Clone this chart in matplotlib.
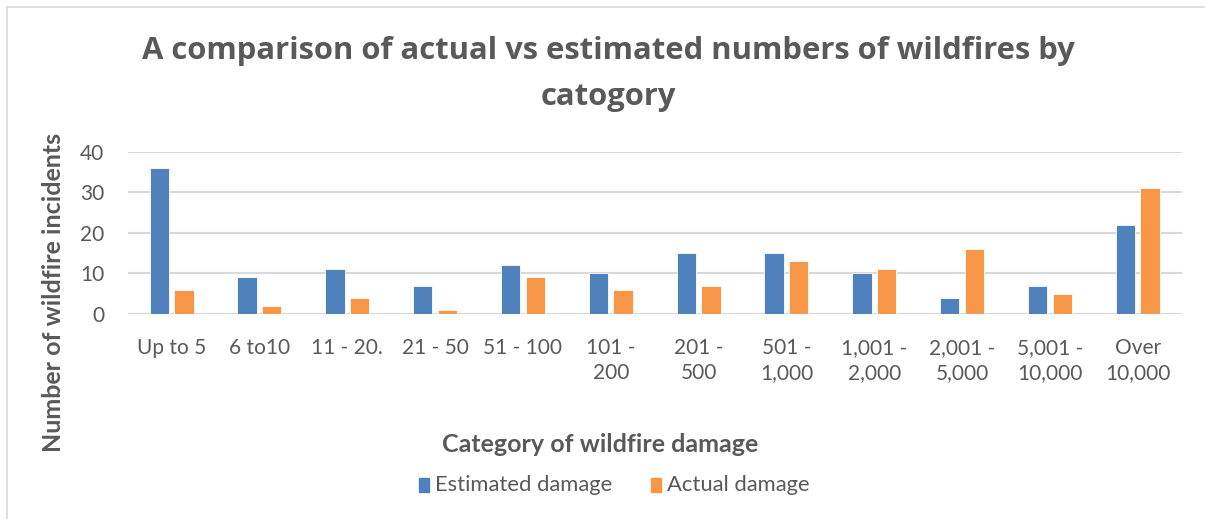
import numpy as np
import matplotlib
matplotlib.use("Agg")
from matplotlib import pyplot as plt
from matplotlib.lines import Line2D
from matplotlib.patches import Rectangle

# 数据
categories = [
    "Up to 5", "6 to10", "11 - 20.", "21 - 50", "51 - 100", "101 -\n200",
    "201 -\n500", "501 -\n1,000", "1,001 -\n2,000", "2,001 -\n5,000",
    "5,001 -\n10,000", "Over\n10,000",
]
estimated = [36, 9, 11, 7, 12, 10, 15, 15, 10, 4, 7, 22]
actual = [6, 2, 4, 1, 9, 6, 7, 13, 11, 16, 5, 31]
y_ticks = [0, 10, 20, 30, 40]

BLUE = "#4F81BD"
ORANGE = "#F79646"
TEXT = "#595959"
GRID = "#D9D9D9"

plt.rcParams["font.family"] = ["Lato", "DejaVu Sans"]

W, H = 1205, 519
fig = plt.figure(figsize=(W / 100, H / 100), dpi=100)
fig.patch.set_facecolor("white")

# 左上边框
fig.add_artist(Line2D([7 / W, 7 / W], [0, 1 - 7 / H], color=GRID, lw=1.2))
fig.add_artist(Line2D([7 / W, 1], [1 - 7 / H, 1 - 7 / H], color=GRID, lw=1.2))

ax = fig.add_axes([127.7 / W, 1 - 314 / H, 1054 / W, 162.3 / H])
x = np.arange(len(categories))
bw = 0.22
ax.bar(x - 0.14, estimated, bw, color=BLUE, edgecolor="white", linewidth=0.6, zorder=3)
ax.bar(x + 0.14, actual, bw, color=ORANGE, edgecolor="white", linewidth=0.6, zorder=3)

ax.set_xlim(-0.5, len(categories) - 0.5)
ax.set_ylim(0, 40)
ax.set_yticks(y_ticks)
ax.set_xticks(x)
ax.set_xticklabels(categories, fontsize=15, color=TEXT, linespacing=1.35)
ax.tick_params(axis="y", labelsize=15, labelcolor=TEXT, length=0, pad=17)
ax.tick_params(axis="x", length=0, pad=17)
ax.grid(axis="y", color=GRID, linewidth=1.5, zorder=0)
for s in ax.spines.values():
    s.set_visible(False)
ax.axhline(0, color=GRID, linewidth=1.5, zorder=2)

fig.text(608 / W, 1 - 51 / H,
         "A comparison of actual vs estimated numbers of wildfires by",
         ha="center", va="center", fontsize=22.3, fontweight="bold", color=TEXT,
         family=["Open Sans", "DejaVu Sans"])
fig.text(608 / W, 1 - 97 / H, "catogory",
         ha="center", va="center", fontsize=22.3, fontweight="bold", color=TEXT,
         family=["Open Sans", "DejaVu Sans"])

fig.text(54 / W, 1 - 292 / H, "Number of wildfire incidents", rotation=90,
         ha="center", va="center", fontsize=18, fontweight="bold", color=TEXT)
fig.text(600 / W, 1 - 444 / H, "Category of wildfire damage",
         ha="center", va="center", fontsize=18, fontweight="bold", color=TEXT)

# 图例
fig.add_artist(Rectangle((419 / W, 1 - 492 / H), 10 / W, 14 / H,
                         color=BLUE, transform=fig.transFigure))
fig.text(435 / W, 1 - 485 / H, "Estimated damage", ha="left", va="center",
         fontsize=15.8, color=TEXT)
fig.add_artist(Rectangle((651 / W, 1 - 492 / H), 10 / W, 14 / H,
                         color=ORANGE, transform=fig.transFigure))
fig.text(667 / W, 1 - 485 / H, "Actual damage", ha="left", va="center",
         fontsize=15.8, color=TEXT)

fig.savefig("out.png", dpi=100, facecolor="white")
